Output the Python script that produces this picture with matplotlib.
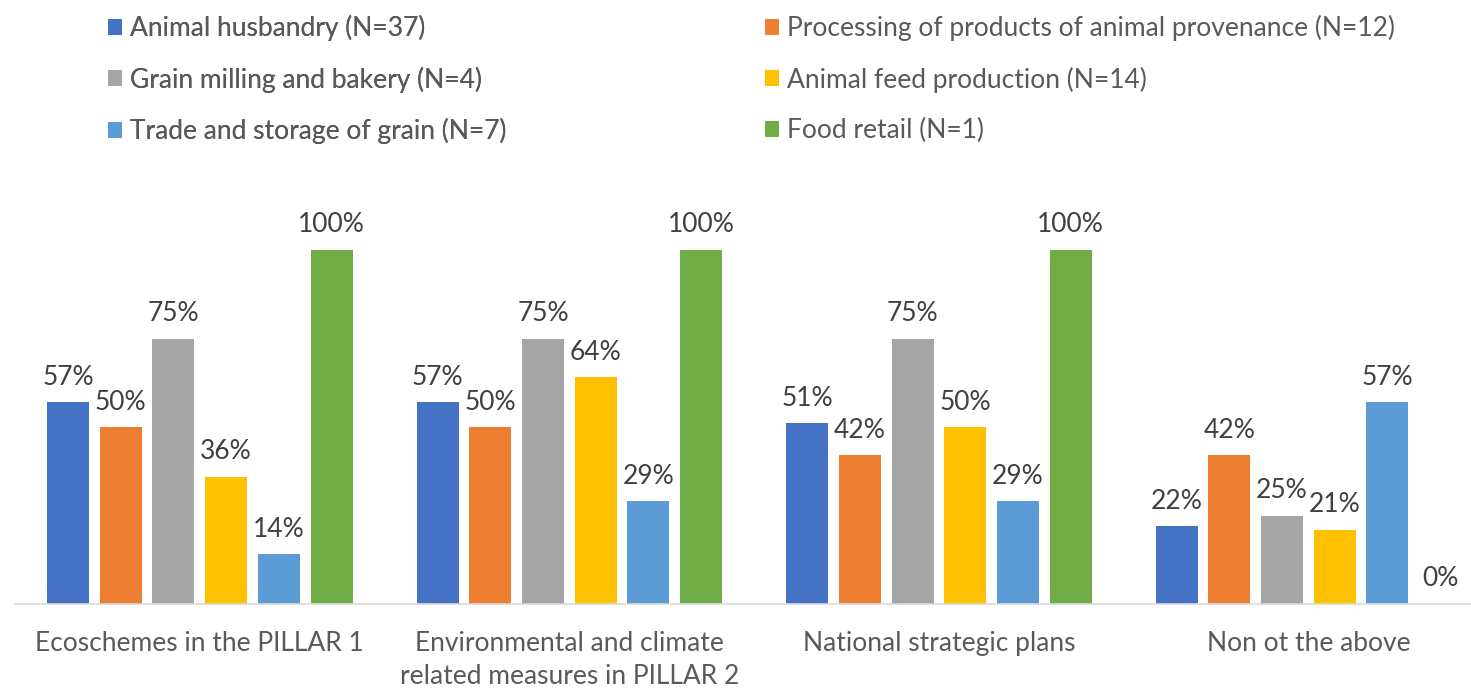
import matplotlib
matplotlib.use("Agg")
import matplotlib.pyplot as plt
import numpy as np

plt.rcParams['font.family'] = ['Lato', 'DejaVu Sans']

# categories along the x axis
groups = ['Ecoschemes in the PILLAR 1',
          'Environmental and climate\nrelated measures in PILLAR 2',
          'National strategic plans',
          'Non ot the above']

series = ['Animal husbandry (N=37)',
          'Processing of products of animal provenance (N=12)',
          'Grain milling and bakery (N=4)',
          'Animal feed production (N=14)',
          'Trade and storage of grain (N=7)',
          'Food retail (N=1)']

# percent per series, one value per group
husbandry = [57, 57, 51, 22]
processing = [50, 50, 42, 42]
milling = [75, 75, 75, 25]
feed = [36, 64, 50, 21]
trade = [14, 29, 29, 57]
retail = [100, 100, 100, 0]

values = [husbandry, processing, milling, feed, trade, retail]
colors = ['#4472C4', '#ED7D31', '#A5A5A5', '#FFC000', '#5B9BD5', '#70AD47']
txt = '#404040'
txt2 = '#595959'
fs = 19

fig = plt.figure(figsize=(14.71, 6.88), dpi=100)
ax = fig.add_axes([15/1471, 84/688, 1 - 15/1471, 424.8/688])

x = np.arange(len(groups))
step = 0.1426
width = 0.1137
bars = []
for k, vals in enumerate(values):
    b = ax.bar(x + (k - 2.5)*step, np.array(vals)/100, width, color=colors[k], label=series[k])
    bars.append(b)
    for xi, v in zip(x + (k - 2.5)*step, vals):
        ax.annotate(f'{v}%', (xi, v/100), xytext=(0, 9), textcoords='offset points',
                    ha='center', va='bottom', fontsize=fs, color=txt)

ax.set_xlim(-0.5, 3.44)
ax.set_ylim(0, 1.2)
ax.set_yticks([])
for s in ['top', 'right', 'left']:
    ax.spines[s].set_visible(False)
ax.spines['bottom'].set_color('#D9D9D9')
ax.spines['bottom'].set_linewidth(1.2)
ax.set_xticks(x)
ax.set_xticklabels(groups, fontsize=fs, color=txt2, linespacing=1.4)
ax.tick_params(axis='x', length=0, pad=19.5)

kw = dict(frameon=False, fontsize=fs, labelcolor=txt2, handlelength=0.54, handleheight=0.54,
          handletextpad=0.3, labelspacing=0.96, borderaxespad=0, borderpad=0)
leg1 = fig.legend([bars[0], bars[2], bars[4]], [series[0], series[2], series[4]],
                  loc='upper left', bbox_to_anchor=(108/1471, 1 - 15/688), **kw)
fig.add_artist(leg1)
fig.legend([bars[1], bars[3], bars[5]], [series[1], series[3], series[5]],
           loc='upper left', bbox_to_anchor=(765/1471, 1 - 15/688), **kw)

fig.savefig('out.png', dpi=100)
